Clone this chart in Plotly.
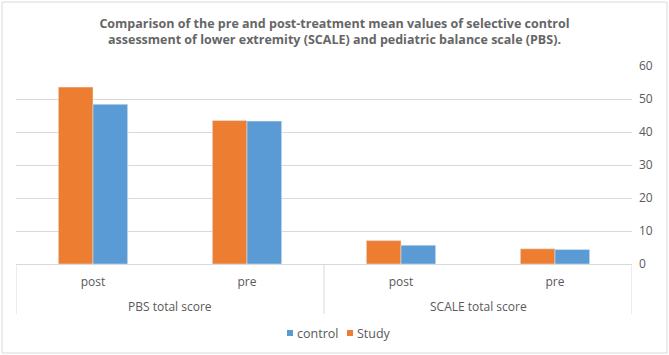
import plotly.graph_objects as go

groups = ["PBS total score", "PBS total score", "SCALE total score", "SCALE total score"]
phases = ["post", "pre", "post", "pre"]
study = [53.6, 43.5, 7.1, 4.6]
control = [48.4, 43.3, 5.7, 4.4]

L, R, T, B = 16, 37, 66, 91
W, H = 669, 355
PW, PH = W - L - R, H - T - B

def px(x):
    return (x - L) / PW

def py(y):
    return (H - B - y) / PH

pos = list(range(len(phases)))

fig = go.Figure()
fig.add_trace(go.Bar(x=pos, y=study, name="Study", marker_color="#ED7D31"))
fig.add_trace(go.Bar(x=pos, y=control, name="control", marker_color="#5B9BD5"))

fig.update_layout(
    width=W, height=H,
    margin=dict(l=L, r=R, t=T, b=B),
    paper_bgcolor="white", plot_bgcolor="white",
    font=dict(family="Open Sans", color="#595959", size=12),
    barmode="group", bargap=0.55, bargroupgap=0,
    title=dict(
        text="<b>Comparison of the pre and post-treatment mean values of selective control<br>assessment of lower extremity (SCALE) and pediatric balance scale (PBS).</b>",
        x=0.5, xanchor="center", y=0.921, yanchor="middle",
        font=dict(family="Open Sans", size=12.5, color="#666666"),
    ),
    showlegend=False,
)
fig.update_xaxes(type="linear", range=[-0.5, len(phases) - 0.5],
                 tickvals=pos, ticktext=phases,
                 showline=True, linecolor="#d9d9d9", linewidth=1,
                 tickfont=dict(size=12, color="#595959"), showgrid=False,
                 zeroline=False, ticklabelstandoff=7)
fig.update_yaxes(side="right", range=[0, 60], dtick=10, showgrid=True,
                 gridcolor="#d9d9d9", zeroline=False,
                 tickfont=dict(size=12, color="#595959"), ticklabelstandoff=6)

# group labels and dividers of the two-level category axis
group_names = list(dict.fromkeys(groups))
for g in group_names:
    idx = [i for i, v in enumerate(groups) if v == g]
    center = (idx[0] + idx[-1]) / 2
    fig.add_annotation(text=g, xref="x", yref="paper", x=center, y=py(306),
                       xanchor="center", yanchor="middle", showarrow=False,
                       font=dict(size=12, color="#595959"))
bounds = [-0.5] + [i + 0.5 for i in range(len(groups) - 1) if groups[i] != groups[i + 1]] + [len(groups) - 0.5]
for b in bounds:
    fig.add_shape(type="line", xref="x", yref="paper", x0=b, x1=b, y0=0, y1=py(314),
                  line=dict(color="#d9d9d9", width=1))

# outer chart border
fig.add_shape(type="rect", xref="paper", yref="paper", x0=px(2), x1=px(667),
              y0=py(353), y1=py(2), line=dict(color="#d9d9d9", width=1))

# legend (control first, then Study)
legend_items = [("control", "#5B9BD5", 287), ("Study", "#ED7D31", 347)]
for name, color, x0 in legend_items:
    fig.add_shape(type="rect", xref="paper", yref="paper",
                  x0=px(x0), x1=px(x0 + 6), y0=py(336), y1=py(330),
                  fillcolor=color, line=dict(width=0))
    fig.add_annotation(text=name, xref="paper", yref="paper", x=px(x0 + 8),
                       y=py(333), xanchor="left", yanchor="middle", showarrow=False,
                       font=dict(size=12.5, color="#595959"))

fig.write_html("out.html", config={"displayModeBar": False},
               post_script="document.body.style.margin='0';")
